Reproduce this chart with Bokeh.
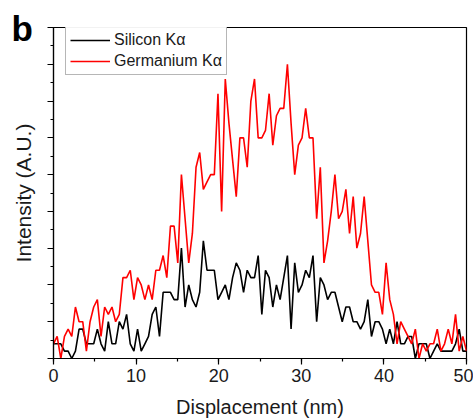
import numpy as np
from bokeh.plotting import figure
from bokeh.models import Range1d, SingleIntervalTicker, Legend, CustomLabelingPolicy, Title
from bokeh.embed import file_html
from bokeh.resources import INLINE

# EDX line-scan counts along the displacement axis
silicon_ka = [2, 2, 2, 1, 1, 0, 1, 4, 4, 2, 2, 2, 4, 2, 1, 5, 2, 2, 5, 4,
              6, 2, 1, 4, 1, 2, 3, 6, 7, 3, 9, 9, 9, 8, 8, 15, 7, 10, 8, 7,
              9, 16, 12, 12, 12, 8, 9, 10, 8, 11, 13, 12, 9, 12, 11, 11, 14, 6, 12, 11,
              7, 10, 8, 11, 14, 4, 13, 9, 10, 12, 11, 14, 5, 11, 10, 8, 9, 9, 7, 5,
              7, 7, 5, 5, 4, 5, 8, 3, 5, 5, 4, 2, 4, 2, 5, 2, 2, 3, 3, 0,
              2, 2, 2, 0, 1, 2, 1, 1, 1, 1, 2, 4, 1, 1]
germanium_ka = [2, 3, 0, 3, 4, 3, 7, 5, 5, 1, 5, 7, 8, 3, 7, 6, 7, 5, 6, 11,
                11, 12, 8, 11, 10, 8, 10, 8, 12, 12, 14, 11, 18, 18, 13, 25, 19, 13, 17, 26,
                28, 23, 24, 25, 25, 36, 20, 38, 32, 27, 22, 30, 30, 26, 35, 38, 30, 30, 31, 36,
                29, 33, 34, 34, 40, 32, 25, 29, 30, 34, 30, 30, 19, 26, 13, 16, 20, 25, 19, 20,
                23, 17, 22, 15, 17, 22, 16, 10, 9, 9, 6, 13, 8, 6, 2, 5, 4, 3, 2, 4,
                0, 2, 1, 2, 2, 4, 1, 2, 4, 2, 6, 1, 3, 1]
# sampling positions of the scan (nm)
displacement = np.linspace(0, 50, len(silicon_ka))

x_ticks = [0, 10, 20, 30, 40, 50]

FONT = "Liberation Sans"

p = figure(width=473, height=420, output_backend="svg", toolbar_location=None,
           x_range=Range1d(0, 50), y_range=Range1d(0, 45),
           min_border_left=53, min_border_right=7, min_border_top=27, min_border_bottom=60)
p.grid.visible = False
p.outline_line_color = "black"
p.outline_line_width = 1.2

si = p.line(displacement, silicon_ka, line_color="black", line_width=1.6)
ge = p.line(displacement, germanium_ka, line_color="#ff0000", line_width=1.6)

# axes
p.xaxis.ticker = SingleIntervalTicker(interval=10, num_minor_ticks=2)
p.yaxis.ticker = SingleIntervalTicker(interval=5, num_minor_ticks=2)
for ax in (p.xaxis[0], p.yaxis[0]):
    ax.axis_line_color = "black"
    ax.axis_line_width = 1.2
    ax.major_tick_line_color = "black"
    ax.major_tick_line_width = 1.2
    ax.minor_tick_line_color = "black"
    ax.minor_tick_line_width = 1.2
    ax.major_tick_in = 0
    ax.major_tick_out = 6
    ax.minor_tick_in = 0
    ax.minor_tick_out = 3
    ax.axis_label_text_font = FONT
    ax.axis_label_text_font_style = "normal"
    ax.axis_label_text_color = "#1a1a1a"
    ax.major_label_text_font = FONT
    ax.major_label_text_color = "#1a1a1a"

p.xaxis.axis_label = "Displacement (nm)"
p.xaxis.axis_label_text_font_size = "20px"
p.xaxis.major_label_text_font_size = "18px"
p.xaxis.major_label_standoff = 4
p.xaxis.axis_label_standoff = 11
p.xaxis.major_label_overrides = {t: str(t) for t in x_ticks}

# intensity axis: ticks only, no numbers
p.yaxis.axis_label = "Intensity (A.U.)"
p.yaxis.axis_label_text_font_size = "21px"
p.yaxis.major_label_text_font_size = "0px"
p.yaxis.major_label_policy = CustomLabelingPolicy(code="if (false) { yield 0 }")
p.yaxis.major_label_standoff = 0
p.yaxis.axis_label_standoff = 13

legend = Legend(items=[("Silicon Kα", [si]), ("Germanium Kα", [ge])],
                location=(12, 283))
legend.label_text_font = FONT
legend.label_text_font_size = "16px"
legend.label_text_color = "#1a1a1a"
legend.border_line_color = "#6e6e6e"
legend.border_line_width = 1
legend.padding = 4
legend.spacing = 3
legend.glyph_width = 40
legend.glyph_height = 16
legend.label_height = 16
legend.label_standoff = 4
legend.margin = 0
p.add_layout(legend)

# panel letter in the upper-left corner, kept in the top border area
panel_tag = Title(text="b", align="left", offset=-42, standoff=-41,
                  text_font=FONT, text_font_style="bold", text_font_size="35px",
                  text_color="black")
p.add_layout(panel_tag, "above")

open("out.html", "w").write(file_html(p, INLINE))
